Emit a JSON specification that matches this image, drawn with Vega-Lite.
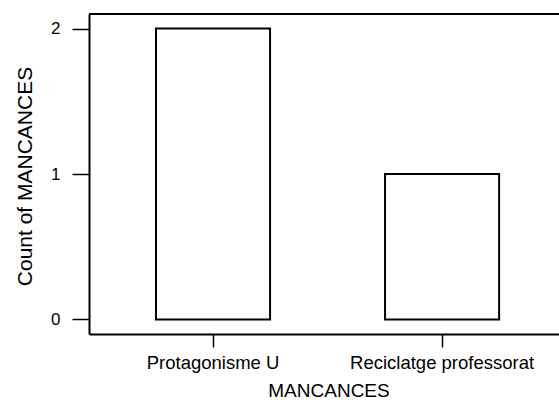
{
  "$schema": "https://vega.github.io/schema/vega-lite/v6.json",
  "autosize": "none",
  "padding": {"left": 89, "top": 14, "right": 0, "bottom": 69},
  "width": 470,
  "height": 320,
  "background": "white",
  "config": {
    "view": {"stroke": null},
    "font": "Liberation Sans",
    "axis": {"labelColor": "black", "titleColor": "black", "titleFontWeight": "normal", "grid": false, "domainColor": "black", "tickColor": "black"}
  },
  "data": {
    "values": [
      {"MANCANCES": "Protagonisme U"},
      {"MANCANCES": "Protagonisme U"},
      {"MANCANCES": "Reciclatge professorat"}
    ]
  },
  "layer": [
    {
      "mark": {"type": "bar", "fill": "white", "stroke": "black", "strokeWidth": 2},
      "encoding": {
        "x": {
          "field": "MANCANCES",
          "type": "nominal",
          "scale": {"paddingInner": 0.502, "paddingOuter": 0.277, "align": 0.528},
          "axis": {
            "labelAngle": 0,
            "bandPosition": 0.5,
            "tickSize": 13,
            "tickWidth": 1.5,
            "domainWidth": 2,
            "labelFontSize": 18.5,
            "labelPadding": 6,
            "labelLimit": 400,
            "labelOverlap": false,
            "titleFontSize": 19,
            "titleX": 239.5,
            "titleY": 56,
            "titleBaseline": "middle",
            "titleAlign": "center"
          }
        },
        "y": {
          "aggregate": "count",
          "type": "quantitative",
          "title": "Count of MANCANCES",
          "scale": {"domain": [-0.1, 2.1], "nice": false, "zero": false},
          "axis": {
            "values": [0, 1, 2],
            "format": "d",
            "tickSize": 17,
            "tickWidth": 1.5,
            "domainWidth": 2,
            "labelFontSize": 17,
            "labelPadding": 12,
            "titleFontSize": 21,
            "titleX": -64,
            "titleY": 162,
            "titleAngle": -90,
            "titleBaseline": "middle",
            "titleAlign": "center"
          }
        }
      }
    },
    {
      "mark": {"type": "rule", "stroke": "black", "strokeWidth": 2},
      "encoding": {"y": {"datum": 2.1}}
    }
  ]
}
